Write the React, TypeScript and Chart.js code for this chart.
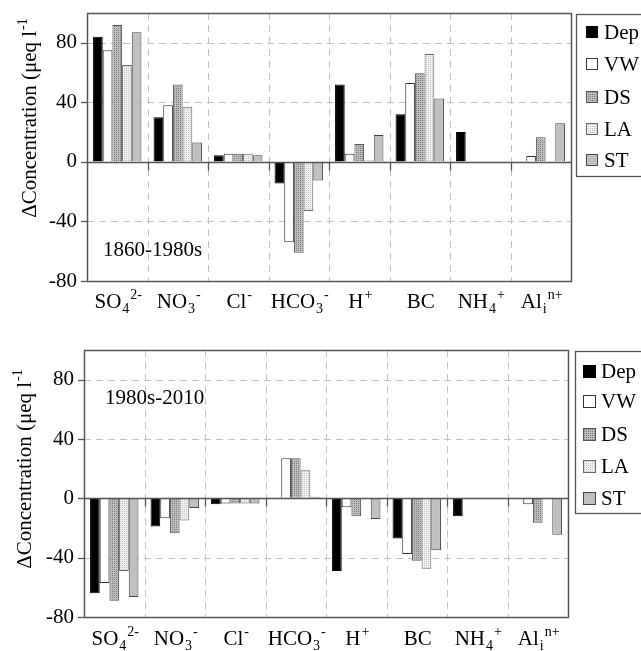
import React, { useEffect, useRef } from 'react';
import { Chart, registerables } from 'chart.js';

Chart.register(...registerables);

// ---------------- data ----------------
const CATEGORIES = ['SO4 2-', 'NO3 -', 'Cl -', 'HCO3 -', 'H +', 'BC', 'NH4 +', 'Ali n+'];
// rich label parts: [base, subscript, superscript]
const LABEL_PARTS: [string, string, string][] = [
  ['SO', '4', '2-'],
  ['NO', '3', '-'],
  ['Cl', '', '-'],
  ['HCO', '3', '-'],
  ['H', '', '+'],
  ['BC', '', ''],
  ['NH', '4', '+'],
  ['Al', 'i', 'n+'],
];
const SERIES_NAMES = ['Dep', 'VW', 'DS', 'LA', 'ST'];
const Y_TICKS = [-80, -40, 0, 40, 80];
const Y_MIN = -80;
const Y_MAX = 100;
const PERIOD_1 = '1860-1980s';
const PERIOD_2 = '1980s-2010';
const Y_TITLE = 'ΔConcentration (μeq l';
const Y_TITLE_SUP = '-1';

// 1860-1980s
const DEP_1 = [84, 30, 4.5, -14.5, 52, 32, 20, null];
const VW_1 = [75, 38, 5.5, -54, 5.5, 53, null, 4];
const DS_1 = [92, 52, 5.5, -61, 12, 59.5, null, 16.5];
const LA_1 = [65, 37, 5.5, -33, 1, 72.5, null, null];
const ST_1 = [87, 13, 4.5, -12.5, 18, 42.5, null, 26];

// 1980s-2010
const DEP_2 = [-64, -19, -4, null, -49, -27, -12, null];
const VW_2 = [-57, -13.5, -3.5, 27, -6, -37.5, null, -4];
const DS_2 = [-69, -23.5, -3.5, 27, -12, -42, null, -16.5];
const LA_2 = [-49, -15, -3.5, 19, null, -47.5, null, null];
const ST_2 = [-66.5, -6.5, -3.5, 1, -14, -35, null, -24.5];

// ---------------- styling ----------------
const FONT = "'Liberation Serif', 'Times New Roman', serif";
const FS = 21;
const FS_SMALL = 14;
const GRID_COLOR = '#c2c2c2';
const GRID_DASH = [7, 5];
const AXIS_COLOR = '#555';

function makePattern(base: string, dot: string): CanvasPattern | string {
  const c = document.createElement('canvas');
  c.width = 4;
  c.height = 4;
  const g = c.getContext('2d');
  if (!g) return base;
  g.fillStyle = base;
  g.fillRect(0, 0, 4, 4);
  g.fillStyle = dot;
  g.fillRect(0, 0, 1, 1);
  g.fillRect(2, 2, 1, 1);
  g.fillRect(2, 0, 1, 1);
  g.fillRect(0, 2, 1, 1);
  const p = g.createPattern(c, 'repeat');
  return p || base;
}

type PanelCfg = {
  height: number;
  yAxisWidth: number;
  padTop: number;
  padRight: number;
  xAxisHeight: number;
  period: string;
  periodX: number;
  periodY: number;
  titleX: number;
  titleY: number;
  labelBaseline: number;
  legendBox: [number, number, number, number];
  legendRows: number[];
  legendSq: number;
  legendSqX: number;
  legendTextX: number;
  series: (number | null)[][];
};

const PANELS: PanelCfg[] = [
  {
    height: 325,
    yAxisWidth: 87,
    padTop: 13,
    padRight: 70,
    xAxisHeight: 44,
    period: PERIOD_1,
    periodX: 103,
    periodY: 250,
    titleX: 29,
    titleY: 118,
    labelBaseline: 27,
    legendBox: [576, 14, 90, 162],
    legendRows: [32, 64, 97, 129, 160],
    legendSq: 12,
    legendSqX: 586,
    legendTextX: 604,
    series: [DEP_1, VW_1, DS_1, LA_1, ST_1],
  },
  {
    height: 326,
    yAxisWidth: 84,
    padTop: 25,
    padRight: 73,
    xAxisHeight: 34,
    period: PERIOD_2,
    periodX: 105,
    periodY: 73,
    titleX: 24,
    titleY: 144,
    labelBaseline: 28,
    legendBox: [575, 26, 90, 162],
    legendRows: [46, 76, 109, 141, 173],
    legendSq: 13,
    legendSqX: 583,
    legendTextX: 601,
    series: [DEP_2, VW_2, DS_2, LA_2, ST_2],
  },
];

function drawRich(
  ctx: CanvasRenderingContext2D,
  base: string,
  sub: string,
  sup: string,
  cx: number,
  baseline: number
) {
  ctx.font = `${FS}px ${FONT}`;
  const w1 = ctx.measureText(base).width;
  ctx.font = `${FS_SMALL}px ${FONT}`;
  const w2 = sub ? ctx.measureText(sub).width + 1 : 0;
  const w3 = sup ? ctx.measureText(sup).width + 1 : 0;
  let x = cx - (w1 + w2 + w3) / 2;
  ctx.textAlign = 'left';
  ctx.textBaseline = 'alphabetic';
  ctx.fillStyle = '#000';
  ctx.font = `${FS}px ${FONT}`;
  ctx.fillText(base, x, baseline);
  x += w1;
  ctx.font = `${FS_SMALL}px ${FONT}`;
  if (sub) {
    ctx.fillText(sub, x + 1, baseline + 5);
    x += w2;
  }
  if (sup) {
    ctx.fillText(sup, x + 1, baseline - 9);
  }
}

function Panel({ cfg }: { cfg: PanelCfg }) {
  const ref = useRef<HTMLCanvasElement | null>(null);

  useEffect(() => {
    const canvas = ref.current;
    if (!canvas) return;
    const fills: (string | CanvasPattern)[] = [
      '#000000',
      '#ffffff',
      makePattern('#bdbdbd', '#7c7c7c'),
      makePattern('#f0f0f0', '#c4c4c4'),
      '#c0c0c0',
    ];
    const borders = ['#000000', '#333333', '#555555', '#666666', '#444444'];

    const boundaries = (x: any) => {
      const out: number[] = [];
      for (let i = 1; i < CATEGORIES.length; i++) {
        out.push(Math.round((x.getPixelForValue(i - 1) + x.getPixelForValue(i)) / 2) + 0.5);
      }
      return out;
    };

    const overlay = {
      id: 'overlay',
      beforeDatasetsDraw(chart: any) {
        const ctx: CanvasRenderingContext2D = chart.ctx;
        const a = chart.chartArea;
        const y = chart.scales.y;
        const x = chart.scales.x;
        ctx.save();
        ctx.strokeStyle = GRID_COLOR;
        ctx.lineWidth = 1;
        ctx.setLineDash(GRID_DASH);
        // vertical dashed grid at category boundaries
        boundaries(x).forEach((bx) => {
          ctx.beginPath();
          ctx.moveTo(bx, a.top);
          ctx.lineTo(bx, a.bottom);
          ctx.stroke();
        });
        // horizontal dashed grid
        Y_TICKS.forEach((v) => {
          if (v === 0 || v === Y_MIN) return;
          const py = Math.round(y.getPixelForValue(v)) + 0.5;
          ctx.beginPath();
          ctx.moveTo(a.left, py);
          ctx.lineTo(a.right, py);
          ctx.stroke();
        });
        ctx.restore();
      },
      afterDatasetsDraw(chart: any) {
        const ctx: CanvasRenderingContext2D = chart.ctx;
        const a = chart.chartArea;
        const y = chart.scales.y;
        const x = chart.scales.x;
        const y0 = Math.round(y.getPixelForValue(0)) + 0.5;
        ctx.save();
        ctx.strokeStyle = AXIS_COLOR;
        ctx.lineWidth = 1.3;
        ctx.setLineDash([]);
        // zero line
        ctx.beginPath();
        ctx.moveTo(a.left, y0);
        ctx.lineTo(a.right, y0);
        ctx.stroke();
        // category boundary ticks at zero line
        boundaries(x).forEach((bx) => {
          ctx.beginPath();
          ctx.moveTo(bx, y0);
          ctx.lineTo(bx, y0 + 8);
          ctx.stroke();
        });
        // outward y ticks
        Y_TICKS.forEach((v) => {
          const py = Math.round(y.getPixelForValue(v)) + 0.5;
          ctx.beginPath();
          ctx.moveTo(a.left - 6, py);
          ctx.lineTo(a.left, py);
          ctx.stroke();
        });
        // border
        ctx.lineWidth = 1.5;
        ctx.strokeRect(
          Math.round(a.left) + 0.5,
          Math.round(a.top) + 0.5,
          Math.round(a.right - a.left),
          Math.round(a.bottom - a.top)
        );
        ctx.restore();
      },
      afterDraw(chart: any) {
        const ctx: CanvasRenderingContext2D = chart.ctx;
        const a = chart.chartArea;
        const x = chart.scales.x;
        ctx.save();
        // category labels
        LABEL_PARTS.forEach((p, i) => {
          drawRich(ctx, p[0], p[1], p[2], x.getPixelForValue(i) + 1, a.bottom + cfg.labelBaseline);
        });
        // y title (rotated)
        ctx.save();
        ctx.translate(cfg.titleX, cfg.titleY);
        ctx.rotate(-Math.PI / 2);
        drawRich(ctx, Y_TITLE, '', Y_TITLE_SUP, 0, 7);
        ctx.restore();
        // period annotation
        ctx.font = `${FS}px ${FONT}`;
        ctx.fillStyle = '#000';
        ctx.textAlign = 'left';
        ctx.textBaseline = 'middle';
        ctx.fillText(cfg.period, cfg.periodX, cfg.periodY);
        // legend
        const [lx, ly, lw, lh] = cfg.legendBox;
        ctx.strokeStyle = AXIS_COLOR;
        ctx.lineWidth = 1.3;
        ctx.strokeRect(lx + 0.5, ly + 0.5, lw, lh);
        SERIES_NAMES.forEach((name, i) => {
          const cy = cfg.legendRows[i];
          const s = cfg.legendSq;
          const sx = cfg.legendSqX;
          const sy = Math.round(cy - s / 2);
          ctx.fillStyle = fills[i] as any;
          ctx.fillRect(sx, sy, s, s);
          ctx.strokeStyle = borders[i];
          ctx.lineWidth = 1;
          ctx.strokeRect(sx + 0.5, sy + 0.5, s - 1, s - 1);
          ctx.fillStyle = '#000';
          ctx.font = `${FS}px ${FONT}`;
          ctx.textAlign = 'left';
          ctx.textBaseline = 'middle';
          ctx.fillText(name, cfg.legendTextX, cy + 1);
        });
        ctx.restore();
      },
    };

    const chart = new Chart(canvas, {
      type: 'bar',
      data: {
        labels: CATEGORIES,
        datasets: SERIES_NAMES.map((name, i) => ({
          label: name,
          data: cfg.series[i] as any,
          backgroundColor: fills[i] as any,
          borderColor: borders[i],
          borderWidth: 1,
          categoryPercentage: 0.8,
          barPercentage: 1,
        })),
      },
      options: {
        responsive: false,
        maintainAspectRatio: false,
        animation: false,
        layout: { padding: { left: 0, right: cfg.padRight, top: cfg.padTop, bottom: 0 } },
        plugins: { legend: { display: false }, tooltip: { enabled: false } },
        scales: {
          x: {
            offset: true,
            ticks: { display: false },
            border: { display: false },
            grid: { display: false },
            afterFit: (s: any) => {
              s.height = cfg.xAxisHeight;
            },
          },
          y: {
            min: Y_MIN,
            max: Y_MAX,
            border: { display: false },
            grid: {
              display: true,
              color: 'rgba(0,0,0,0)',
              drawTicks: true,
              tickLength: 6,
              tickColor: 'rgba(0,0,0,0)',
            },
            afterBuildTicks: (s: any) => {
              s.ticks = Y_TICKS.map((v) => ({ value: v }));
            },
            afterFit: (s: any) => {
              s.width = cfg.yAxisWidth;
            },
            ticks: {
              color: '#000',
              font: { family: FONT, size: FS, lineHeight: 0.8 },
              padding: 4,
            },
          },
        },
      } as any,
      plugins: [overlay],
    });
    return () => chart.destroy();
  }, [cfg]);

  return (
    <canvas
      ref={ref}
      width={641}
      height={cfg.height}
      style={{ display: 'block', width: 641, height: cfg.height }}
    />
  );
}

export default function App() {
  return (
    <div
      style={{
        position: 'absolute',
        left: 0,
        top: 0,
        width: 641,
        height: 651,
        background: '#fff',
      }}
    >
      {PANELS.map((cfg, i) => (
        <Panel key={i} cfg={cfg} />
      ))}
    </div>
  );
}
